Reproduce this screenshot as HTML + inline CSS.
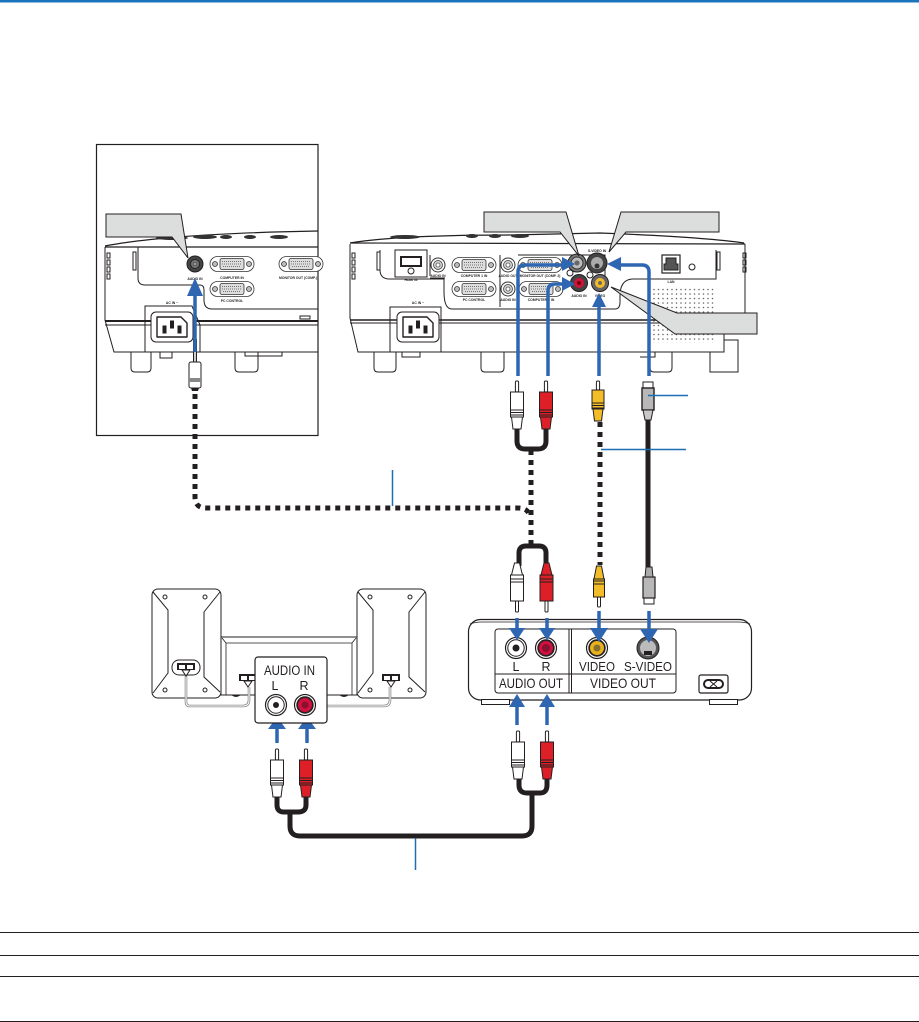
<!DOCTYPE html>
<html><head><meta charset="utf-8"><style>
html,body{margin:0;padding:0;background:#fff;width:919px;height:1022px;overflow:hidden}
svg{display:block}
text{font-family:"Liberation Sans",sans-serif;fill:#231f20}
</style></head><body>
<svg width="919" height="1022" viewBox="0 0 919 1022" xmlns="http://www.w3.org/2000/svg">
<defs>
<pattern id="dots" width="4.5" height="4.5" patternUnits="userSpaceOnUse"><circle cx="1.5" cy="1.5" r=".8" fill="#666"/></pattern>
<g id="dsub" fill="#fff" stroke="#333" stroke-width=".8">
<rect x="-22" y="-7.5" width="44" height="15" rx="7.5"/>
<rect x="-12" y="-5.5" width="24" height="11" rx="2" fill="#ddd"/>
<circle cx="-17" cy="0" r="2.5" fill="#bbb"/><circle cx="17" cy="0" r="2.5" fill="#bbb"/>
<path d="M-10-2.5H10M-10 0H10M-9 2.5H9" stroke="#555" stroke-dasharray="1 1"/>
</g>
<g id="jackg"><circle r="7" fill="#fff" stroke="#333"/><circle r="4.5" fill="#ccc" stroke="#333" stroke-width=".7"/><circle r="2" fill="#fff" stroke="#333" stroke-width=".6"/></g>
<g id="rca" stroke="#231f20" stroke-width="1">
<rect x="-1.6" y="-11" width="3.2" height="11" fill="#fff" rx="1.2"/>
<rect x="-6.5" y="0" width="13" height="25"/>
<path d="M-6.5 18H6.5M-6.5 20.5H6.5M-6.5 23H6.5" stroke-width="1"/>
<path d="M-5.5 25H5.5L4 37H-4Z"/>
</g>
<g id="rcay" stroke="#231f20" stroke-width="1">
<rect x="-1.6" y="-9" width="3.2" height="9" fill="#fff" rx="1.2"/>
<rect x="-6" y="0" width="12" height="19" fill="#f2bd29"/>
<path d="M-6 13H6M-6 15.5H6M-6 18H6"/>
<path d="M-5 19H5L3.5 31H-3.5Z" fill="#f2bd29"/>
</g>
<g id="jackbig"><circle r="10.5" fill="#fff" stroke="#231f20" stroke-width="1.2"/><circle r="8.2" fill="#fff" stroke="#231f20" stroke-width="1"/></g>
<g id="inlet" fill="#fff" stroke="#231f20" stroke-width="1">
<rect x="-21" y="-15" width="42" height="30" rx="5"/>
<path d="M-15-10H9L15-4V10H-15Z" stroke-width="1.4" stroke-linejoin="round"/>
<rect x="-9" y="-1" width="3" height="7" fill="#231f20"/><rect x="-1.5" y="-6" width="3" height="7" fill="#231f20"/><rect x="6" y="-1" width="3" height="7" fill="#231f20"/>
</g>
<g id="term"><rect x="-9" y="-6" width="18" height="7" fill="#231f20"/><rect x="-7" y="-4" width="6" height="4" fill="#fff"/><rect x="1" y="-4" width="6" height="4" fill="#fff"/><path d="M-4 1H4L0 7Z" fill="#fff" stroke="#231f20"/></g>
</defs>

<rect x="0" y="0" width="919" height="2.5" fill="#1b75bc"/>

<!-- left box -->
<rect x="96.5" y="144.5" width="221.5" height="291" fill="#fff" stroke="#231f20" stroke-width="1.2"/>
<g fill="none" stroke="#231f20" stroke-width="1">
<path d="M105 246C135 240 200 233 318 231" stroke-width="1.2"/>
<path d="M105 247H318" stroke-width="1.2"/>
<path d="M105 247V320L114 352H318"/>
<path d="M105 321H318" stroke-width="2"/>
<path d="M105 325H318"/>
<path d="M138 247V278Q138 285 145 285H200Q204 285 204 290V300Q204 309 212 309H318"/>
<path d="M133 252V270H136V252Z"/>
<path d="M145 352V306H192L200 325V352"/>
<path d="M131 352V368Q131 372 135 372H147Q151 372 151 368V352M235 352V368Q235 372 239 372H254Q258 372 258 368V352"/>
<path d="M160 352V358H172V352M245 352V356H282V352M300 316H310V319H300Z"/>
<path d="M107 253H110V258H107ZM107 260H110V265H107ZM107 267H110V272H107ZM107 274H110V279H107Z"/>
</g>
<g fill="#333"><ellipse cx="172" cy="238" rx="16" ry="2"/><ellipse cx="205" cy="237" rx="12" ry="2"/><ellipse cx="226" cy="237" rx="6" ry="2"/><ellipse cx="250" cy="237" rx="6" ry="2"/><ellipse cx="279" cy="237" rx="9" ry="2"/></g>
<use href="#inlet" x="172" y="327"/>
<circle cx="195" cy="264" r="8" fill="#444" stroke="#231f20"/><circle cx="195" cy="264" r="4.5" fill="#777" stroke="#222"/><circle cx="195" cy="264" r="2" fill="#999" stroke="#222" stroke-width=".5"/>
<use href="#dsub" x="232" y="264"/><use href="#dsub" x="301" y="264"/><use href="#dsub" x="232" y="289"/>
<g font-size="3.4" font-weight="bold"><text x="195" y="280" text-anchor="middle">AUDIO IN</text><text x="232" y="279" text-anchor="middle">COMPUTER IN</text><text x="298" y="279" text-anchor="middle">MONITOR OUT (COMP.)</text><text x="232" y="302" text-anchor="middle">PC CONTROL</text><text x="172" y="304" text-anchor="middle">AC IN ~</text></g>
<polygon points="106,214 181,214 188,258 172,237 106,237" fill="#dcdddd" stroke="#231f20" stroke-width="1"/>

<!-- left plug -->
<path d="M195 339V362" stroke="#231f20" stroke-width="4"/>
<path d="M195 340V362" stroke="#ccc" stroke-width="2"/>
<rect x="189" y="362" width="12" height="26" rx="2" fill="#fff" stroke="#231f20"/><rect x="189" y="378" width="12" height="4" fill="#888"/><path d="M191 388h8l-1 3h-6z" fill="#231f20"/>

<!-- right projector -->
<rect x="653" y="288" width="61" height="55" fill="url(#dots)"/>
<g fill="none" stroke="#231f20" stroke-width="1">
<path d="M350 243C380 238 430 235 510 235L600 233C650 235 710 238 744 243" stroke-width="1.2"/>
<path d="M350 243L745 244" stroke-width="1.2"/>
<path d="M350 244V318L358 352H724V322L745 318V244" />
<path d="M350 323H742" />
<path d="M350 320H745" stroke-width="1.6"/>
<path d="M380 250V270Q380 279 390 279H444V292Q444 309 452 309H615Q620 309 620 302V296Q620 280 632 279H716V250"/>
<path d="M377 252V270H380V252ZM717 252V270H720V252Z"/>
<path d="M430 255V276M500 255V307"/>
<path d="M430 278H445M518 255H605V276"/>
<path d="M374 352V368Q374 372 378 372H392Q396 372 396 368V352M481 352V368Q481 372 485 372H500Q504 372 504 368V352M650 352V368Q650 372 654 372H668Q672 372 672 368V352M710 352V372H738V340H724"/>
<path d="M402 352V357H420V352M655 352V357H640"/>
<path d="M390 352V307H441V352"/>
<path d="M352 253H355V258H352ZM352 260H355V265H352ZM352 267H355V272H352ZM352 274H355V279H352ZM743 253H746V258H743ZM743 260H746V265H743ZM743 267H746V272H743Z"/>
<path d="M395 250H427V277H395Z"/>
<rect x="401" y="257" width="20" height="9" fill="#fff" stroke-width="2"/>
<rect x="662" y="255" width="18" height="18" stroke-width="1.2"/>
<path d="M666 258H676V264H678V270H664V264H666Z" fill="#555"/>
</g>
<g fill="#333"><ellipse cx="405" cy="237" rx="15" ry="2"/><ellipse cx="472" cy="236" rx="6" ry="2"/><ellipse cx="495" cy="236" rx="6" ry="2"/><ellipse cx="520" cy="236" rx="9" ry="2"/></g>
<circle cx="692" cy="267" r="3" fill="#fff" stroke="#231f20"/><circle cx="411" cy="271" r="3" fill="#fff" stroke="#231f20"/>
<use href="#inlet" x="418" y="327"/>
<use href="#jackg" x="438" y="265"/><use href="#dsub" x="474" y="265"/><use href="#jackg" x="508" y="265"/><use href="#dsub" x="474" y="289"/><use href="#jackg" x="508" y="289"/>
<use href="#dsub" x="540" y="265"/><use href="#dsub" x="541" y="289"/>
<g font-size="3.4" font-weight="bold"><text x="438" y="277" text-anchor="middle">AUDIO IN</text><text x="474" y="277" text-anchor="middle">COMPUTER 1 IN</text><text x="508" y="277" text-anchor="middle">AUDIO OUT</text><text x="540" y="277" text-anchor="middle">MONITOR OUT (COMP. 2)</text><text x="474" y="301" text-anchor="middle">PC CONTROL</text><text x="508" y="301" text-anchor="middle">AUDIO IN</text><text x="541" y="301" text-anchor="middle">COMPUTER 2 IN</text><text x="411" y="281" text-anchor="middle">HDMI IN</text><text x="671" y="283" text-anchor="middle">LAN</text><text x="579" y="297" text-anchor="middle">AUDIO IN</text><text x="600" y="297" text-anchor="middle">VIDEO</text><text x="418" y="304" text-anchor="middle">AC IN ~</text><text x="597" y="252" text-anchor="middle">S-VIDEO IN</text></g>
<circle cx="577" cy="263" r="9" fill="#777" stroke="#231f20"/><circle cx="577" cy="263" r="6" fill="#bbb" stroke="#333"/><circle cx="577" cy="263" r="2.5" fill="#666"/>
<circle cx="597" cy="263" r="10" fill="#444" stroke="#231f20"/><circle cx="597" cy="263" r="6" fill="#aaa"/><circle cx="597" cy="266" r="2.5" fill="#333"/>
<circle cx="579" cy="283" r="8.5" fill="#444" stroke="#231f20"/><circle cx="579" cy="283" r="5" fill="#d1113e"/><circle cx="579" cy="283" r="2" fill="#700"/>
<circle cx="600" cy="283" r="8.5" fill="#666" stroke="#231f20"/><circle cx="600" cy="283" r="5" fill="#f2bd29"/><circle cx="600" cy="283" r="2" fill="#765"/>
<circle cx="570" cy="273" r="3" fill="#fff" stroke="#231f20"/><circle cx="590" cy="275" r="3" fill="#fff" stroke="#231f20"/>
<polygon points="484,212 566,212 579,256 560,232 484,232" fill="#dcdddd" stroke="#231f20" stroke-width="1"/>
<polygon points="621,212 719,212 719,232 626,232 609,252" fill="#dcdddd" stroke="#231f20" stroke-width="1"/>
<polygon points="757,313 757,334 675,334 611,287 677,313" fill="#dcdddd" stroke="#231f20" stroke-width="1"/>

<!-- blue arrows top -->
<g fill="none" stroke="#2f66b2" stroke-width="3.5">
<path d="M195 352V290"/>
<path d="M518 376V272Q518 265 525 265H565"/>
<path d="M548 376V291Q548 284 555 284H565"/>
<path d="M599 376V305"/>
<path d="M649 376V272Q649 265 642 265H620"/>
</g>
<g fill="#2f66b2">
<polygon points="195,278 187,296 203,296"/>
<polygon points="575,264 562,257 562,271"/>
<polygon points="575,284 562,277 562,291"/>
<polygon points="599,293 592,307 606,307"/>
<polygon points="607,264 621,257 621,271"/>
</g>

<!-- cables -->
<g fill="none" stroke="#231f20" stroke-width="5">
<path d="M517 429V441Q517 449 525 449H538Q546 449 546 441V429"/>
<path d="M519 566V553Q519 546 526 546H539Q546 546 546 553V566"/>
<path d="M648 420V568"/>
<path d="M519 779V785Q519 793 527 793H540Q547 793 547 785V779"/>
<path d="M277 797V805Q277 812 284 812H298Q306 812 306 805V797"/>
<path d="M290 812V826Q290 836 300 836H522Q532 836 532 826V793"/>
</g>
<g fill="none" stroke="#231f20" stroke-width="5" stroke-dasharray="5 5">
<path d="M195 394V497Q195 508 206 508H518Q527 508 529 514"/>
<path d="M531 450V546"/>
<path d="M600 422V565"/>
</g>

<!-- plugs top -->
<use href="#rca" x="517" y="392" fill="#fff"/>
<use href="#rca" x="546" y="392" fill="#dd2027"/>
<use href="#rcay" x="598" y="390"/>
<g stroke="#231f20"><rect x="643" y="382" width="10" height="6" fill="#fff"/><rect x="642" y="388" width="12" height="22" fill="#b8b8b8" stroke-width="1.4"/><path d="M643 410H653L651 420H645Z" fill="#c8c8c8"/></g>

<!-- leaders -->
<g stroke="#1a6fb5" stroke-width="1.5">
<path d="M648 395.5H688M601 449.5H686M392.5 470V506M415.5 838V870"/>
</g>

<!-- DVD -->
<rect x="468.5" y="619.5" width="283" height="80.5" rx="12" fill="#fff" stroke="#231f20" stroke-width="1.2"/>
<path d="M470 624Q475 622 482 622H738Q745 622 750 624" fill="none" stroke="#231f20" stroke-width=".8"/>
<rect x="495" y="629" width="181" height="64" rx="3" fill="#fff" stroke="#231f20" stroke-width="1"/>
<path d="M569 629V693M571.5 629V693M495 674H676" stroke="#231f20" fill="none"/>
<rect x="481.5" y="699.5" width="28" height="5" fill="#fff" stroke="#231f20"/><rect x="709.5" y="699.5" width="28" height="5" fill="#fff" stroke="#231f20"/>
<rect x="699" y="675" width="29" height="18" rx="2" fill="#fff" stroke="#231f20" stroke-width="1.2"/><rect x="704" y="680" width="19" height="8" rx="4" fill="#fff" stroke="#231f20" stroke-width="2"/><path d="M710 681L717 687M717 681L710 687" stroke="#231f20"/>
<use href="#jackbig" x="516" y="648"/><circle cx="516" cy="648" r="3.5" fill="#231f20"/>
<use href="#jackbig" x="546" y="648"/><circle cx="546" cy="648" r="7.5" fill="#d1113e" stroke="#231f20"/><circle cx="546" cy="648" r="4" fill="#8a1030"/>
<use href="#jackbig" x="597" y="648"/><circle cx="597" cy="648" r="7.5" fill="#eab11f" stroke="#231f20"/><circle cx="597" cy="648" r="3.5" fill="#84702c"/>
<circle cx="648" cy="648" r="11" fill="#555" stroke="#231f20"/><circle cx="648" cy="648" r="8" fill="#bbb"/><rect x="644" y="651" width="8" height="4" fill="#231f20"/>
<text x="516" y="671" font-size="12.5" text-anchor="middle">L</text>
<text x="546" y="671" font-size="12.5" text-anchor="middle">R</text>
<text x="579" y="671" font-size="12.5" textLength="36" lengthAdjust="spacingAndGlyphs">VIDEO</text>
<text x="624" y="671" font-size="12.5" textLength="48" lengthAdjust="spacingAndGlyphs">S-VIDEO</text>
<text x="499" y="688" font-size="14" textLength="64" lengthAdjust="spacingAndGlyphs">AUDIO OUT</text>
<text x="590" y="688" font-size="14" textLength="66" lengthAdjust="spacingAndGlyphs">VIDEO OUT</text>

<!-- plugs mid -->
<g transform="translate(517 601) scale(1 -1)"><g stroke="#231f20" fill="#fff"><rect x="-6.5" y="0" width="13" height="26"/><path d="M-6.5 19H6.5M-6.5 22H6.5"/><path d="M-5.5 26L-2.5 38H2.5L5.5 26Z"/></g></g>
<rect x="515.5" y="601" width="3" height="11" rx="1" fill="#fff" stroke="#231f20"/>
<g transform="translate(546.5 601) scale(1 -1)"><g stroke="#231f20" fill="#dd2027"><rect x="-6.5" y="0" width="13" height="26"/><path d="M-6.5 19H6.5M-6.5 22H6.5"/><path d="M-5.5 26L-2.5 38H2.5L5.5 26Z"/></g></g>
<rect x="545" y="601" width="3" height="11" rx="1" fill="#fff" stroke="#231f20"/>
<g transform="translate(599 597) scale(1 -1)"><g stroke="#231f20" fill="#f2bd29"><rect x="-5.5" y="0" width="11" height="18"/><path d="M-5.5 13H5.5M-5.5 16H5.5"/><path d="M-5 18L-2.5 31H2.5L5 18Z"/></g></g>
<rect x="597.5" y="597" width="3" height="10" rx="1" fill="#fff" stroke="#231f20"/>
<g stroke="#231f20"><rect x="644" y="598" width="10" height="6" fill="#fff"/><rect x="643" y="577" width="12" height="21" fill="#b8b8b8" stroke-width="1.2"/><path d="M645 577L646 567H652L653 577Z" fill="#aaa"/></g>

<!-- arrows to DVD -->
<g fill="none" stroke="#2f66b2" stroke-width="3.5"><path d="M517 618V632M547 618V632M599 611V632M649 611V632M517 725V705M547 725V705M277 743V727M307 743V727"/></g>
<g fill="#2f66b2">
<polygon points="517,640 509,628 525,628"/><polygon points="547,640 539,628 555,628"/><polygon points="599,642 590,628 608,628"/><polygon points="649,643 640,629 658,629"/>
<polygon points="517,694 509,707 525,707"/><polygon points="547,694 539,707 555,707"/><polygon points="277,717 268,729 286,729"/><polygon points="307,717 298,729 316,729"/>
</g>

<!-- plugs lower -->
<use href="#rca" x="518" y="742" fill="#fff"/><use href="#rca" x="547" y="742" fill="#dd2027"/>
<use href="#rca" x="277" y="760" fill="#fff"/><use href="#rca" x="306" y="760" fill="#dd2027"/>

<!-- speakers -->
<g fill="#fff" stroke="#231f20" stroke-width="1">
<rect x="221" y="637" width="136" height="58"/>
<path d="M222 638L226 643H352L356 638M226 643V695M352 643V695" fill="none" stroke-width=".8"/>
<rect x="152" y="589" width="69" height="109" rx="6"/>
<rect x="357" y="589" width="69" height="109" rx="6"/>
<path d="M153 592L168 610V673L153 693M220 592L204 612V677L220 692M358 592L373 610V673L358 693M425 592L409 612V677L425 692" fill="none"/>
<circle cx="165" cy="597" r="2"/><circle cx="205" cy="597" r="2"/><circle cx="165" cy="690" r="2"/><circle cx="205" cy="690" r="2"/>
<circle cx="370" cy="597" r="2"/><circle cx="410" cy="597" r="2"/><circle cx="370" cy="690" r="2"/><circle cx="410" cy="690" r="2"/>
<rect x="172" y="660" width="28" height="15" rx="7"/>
</g>
<path d="M232 695q4 3 8 0M340 695q4 3 8 0" fill="#231f20" stroke="#231f20"/>
<g fill="none" stroke="#8a8a8a" stroke-width="2.6"><path d="M186 675V702Q186 706 190 706H243Q249 706 249 700V687"/><path d="M327 706H384Q390 706 390 700V687"/></g>
<g fill="none" stroke="#fff" stroke-width="1"><path d="M186 675V702Q186 706 190 706H243Q249 706 249 700V687"/><path d="M327 706H384Q390 706 390 700V687"/></g>
<use href="#term" x="186" y="669"/><use href="#term" x="248" y="680"/><use href="#term" x="391" y="680"/>
<rect x="255" y="657" width="72" height="66" rx="3" fill="#fff" stroke="#231f20" stroke-width="1.2"/>
<text x="264" y="675" font-size="13.5" textLength="51" lengthAdjust="spacingAndGlyphs">AUDIO IN</text>
<text x="275" y="690" font-size="12.5" text-anchor="middle">L</text>
<text x="304" y="690" font-size="12.5" text-anchor="middle">R</text>
<use href="#jackbig" x="276" y="705"/><circle cx="276" cy="705" r="3" fill="#231f20"/>
<use href="#jackbig" x="305" y="705"/><circle cx="305" cy="705" r="7.5" fill="#d1113e" stroke="#231f20"/><circle cx="305" cy="705" r="3.5" fill="#8a1030"/>

<!-- table -->
<g fill="#231f20"><rect x="0" y="932" width="919" height="1"/><rect x="0" y="955" width="919" height="1"/><rect x="0" y="976" width="919" height="1"/><rect x="0" y="1021" width="919" height="1"/></g>
</svg>
</body></html>
